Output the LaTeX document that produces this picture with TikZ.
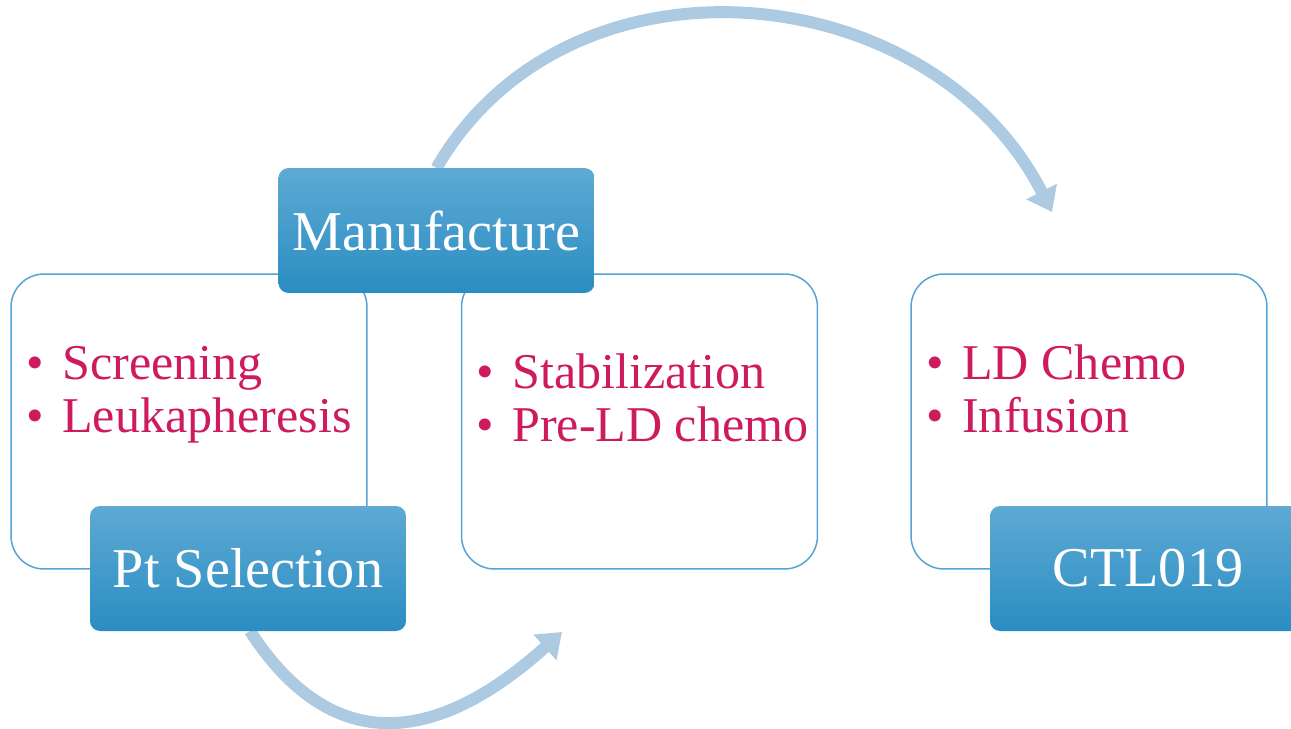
\documentclass[tikz,border=0pt]{standalone}
\usepackage{fontspec}
\setmainfont{Liberation Serif}
\usetikzlibrary{arrows.meta,positioning}

\definecolor{frameblue}{RGB}{86,164,212}
\definecolor{stagetop}{RGB}{94,170,212}
\definecolor{stagemid}{RGB}{62,160,210}
\definecolor{stagebot}{RGB}{42,141,194}
\definecolor{itempink}{RGB}{206,27,94}
\definecolor{flowblue}{RGB}{172,202,226}

\begin{document}
\begin{tikzpicture}[x=0.02cm, y=-0.02cm,
    frame/.style={draw=frameblue, line width=0.85pt, rounded corners=0.66cm,
                  minimum width=7.12cm, minimum height=5.9cm},
    stage/.style={rounded corners=0.2cm, top color=stagetop, middle color=stagemid,
                  bottom color=stagebot, minimum width=6.32cm, minimum height=2.5cm,
                  text=white, font=\fontsize{32}{38}\selectfont},
    item/.style={anchor=base west, inner sep=0pt, text=itempink,
                 font=\fontsize{28.5}{32}\selectfont},
    flow/.style={draw=flowblue, line width=0.24cm,
                 -{Triangle[length=0.46cm,width=0.66cm]}}]
  \useasboundingbox (0,0) rectangle (1291,728);

  % outline boxes
  \node[frame] (pre)  at (189,421.5)  {};
  \node[frame] (mid)  at (639.5,421.5) {};
  \node[frame] (post) at (1089,421.5) {};

  % bullet items
  \node[item] (scr) at (26,379)  {\makebox[0.72cm][l]{\textbullet}Screening};
  \node[item] (leu) at (26,432)  {\makebox[0.72cm][l]{\textbullet}Leukapheresis};
  \node[item] (sta) at (476,388) {\makebox[0.72cm][l]{\textbullet}Stabilization};
  \node[item] (pld) at (476,441) {\makebox[0.72cm][l]{\textbullet}Pre-LD chemo};
  \node[item] (ldc) at (926,379) {\makebox[0.72cm][l]{\textbullet}LD Chemo};
  \node[item] (inf) at (926,432) {\makebox[0.72cm][l]{\textbullet}Infusion};

  % arrows
  \coordinate (topend) at (1052,212);
  \coordinate (lowend) at (562,632);
  \draw[flow] (436.5,168) to[out=60, in=117, looseness=1.1] (topend);
  \draw[flow] (250,631) to[out=-57, in=222, looseness=1.3] (lowend);

  % stage boxes
  \node[stage] (manu) at (436.5,230.5) {Manufacture};
  \node[stage] (pts)  at (248,568.5)   {Pt Selection};
  \node[stage] (ctl)  at (1148,568.5)  {CTL019};
\end{tikzpicture}
\end{document}
